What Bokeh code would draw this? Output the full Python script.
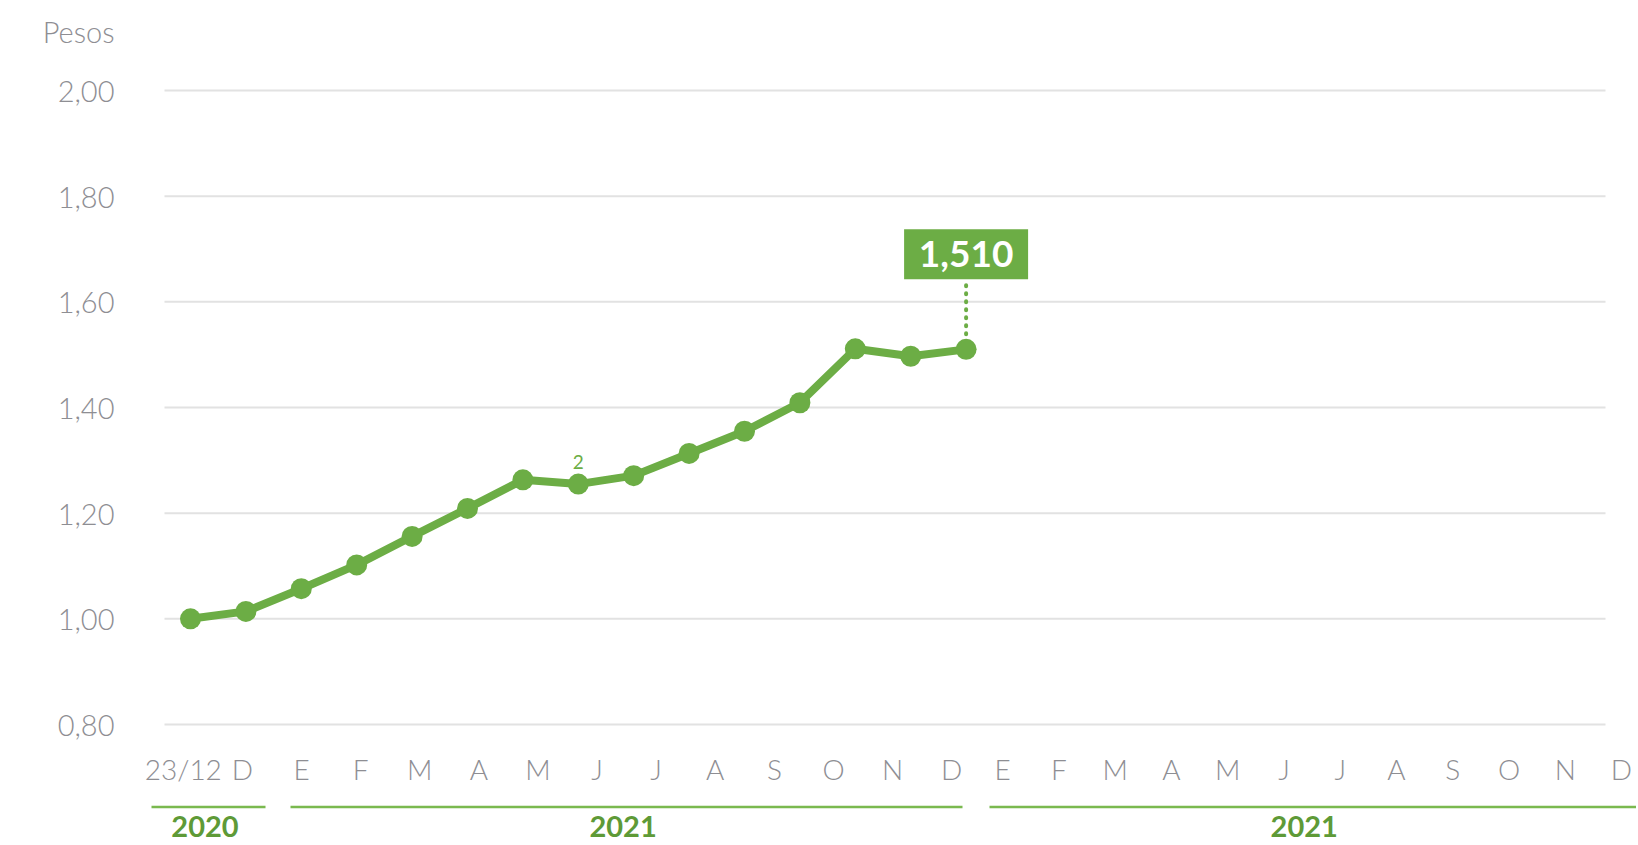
import numpy as np
from bokeh.plotting import figure
from bokeh.models import FixedTicker, CustomJSTickFormatter
from bokeh.core.properties import value
from bokeh.embed import file_html
from bokeh.resources import INLINE

# ---------------- data ----------------
values = [1.000, 1.014, 1.057, 1.102, 1.156, 1.209, 1.263, 1.255, 1.271,
          1.313, 1.355, 1.409, 1.511, 1.497, 1.510]
months_2020 = ["23/12", "D"]
months_2021a = ["E", "F", "M", "A", "M", "J", "J", "A", "S", "O", "N", "D"]
months_2021b = ["E", "F", "M", "A", "M", "J", "J", "A", "S", "O", "N", "D"]
year_labels = ["2020", "2021", "2021"]
y_ticks = [0.8, 1.0, 1.2, 1.4, 1.6, 1.8, 2.0]
last_value_label = "1,510"
note_label = "2"
note_index = 7
unit_label = "Pesos"

# ---------------- layout helpers (page pixels) ----------------
OFF = 0
W, H = 1636, 845
X0, DX = 190.0, 55.4          # page px of first point, px per step
Y_REF, Y_REF_PX, PPU = 2.0, 90.0, 528.3


def px2x(px):
    return (px - X0) / DX


def py2y(py):
    return Y_REF - (py - Y_REF_PX) / PPU


FRAME_LEFT = 140
GREEN = "#6cad45"
GREEN_DARK = "#5e9a37"
GREEN_LINE = "#7ab94f"
GRAY = "#8e8e93"
GRID = "#e2e2e2"
FONT = "Lato Light, Lato"
FONT_B = "Lato"

p = figure(width=W, height=H,
           x_range=(px2x(FRAME_LEFT), px2x(OFF + W)),
           y_range=(py2y(OFF + H), py2y(OFF)),
           output_backend="svg", toolbar_location=None, x_axis_type=None,
           min_border_left=FRAME_LEFT - OFF, min_border_right=0,
           min_border_top=0, min_border_bottom=0)
p.outline_line_color = None
p.grid.visible = False

# y axis (the unit name sits as an extra label above the top tick)
unit_y = py2y(31)
ax = p.yaxis[0]
ax.ticker = FixedTicker(ticks=y_ticks + [unit_y])
ax.formatter = CustomJSTickFormatter(
    args=dict(unit_tick=unit_y, unit=unit_label),
    code="if (Math.abs(tick - unit_tick) < 1e-6) { return unit; }"
         " return tick.toFixed(2).replace('.', ',');")
ax.axis_line_color = None
ax.major_tick_line_color = None
ax.minor_tick_line_color = None
ax.major_tick_out = 0
ax.major_tick_in = 0
ax.major_label_standoff = 26
ax.major_label_text_font = FONT
ax.major_label_text_font_size = "29px"
ax.major_label_text_color = GRAY

# gridlines
n = len(y_ticks)
p.segment(x0=[px2x(164)] * n, x1=[px2x(1605)] * n, y0=y_ticks, y1=y_ticks,
          line_color=GRID, line_width=2)

# month labels
month_labels = months_2020 + months_2021a + months_2021b
tick_pos = np.r_[np.linspace(-0.13, 13.74, len(months_2020) + len(months_2021a)),
                 np.linspace(14.66, 25.83, len(months_2021b))]
p.text(x=list(tick_pos), y=[py2y(768)] * len(month_labels), text=month_labels,
       text_font=value(FONT), text_font_size="28px", text_color=GRAY,
       text_align="center", text_baseline="middle")

# year group lines and labels
spans_px = [(151, 265), (290, 962), (989, OFF + W)]
p.segment(x0=[px2x(a) for a, b in spans_px], x1=[px2x(b) for a, b in spans_px],
          y0=[py2y(806.5)] * 3, y1=[py2y(806.5)] * 3,
          line_color=GREEN_LINE, line_width=2.5)
year_x = [px2x(204.5), px2x(622.6), px2x(1303.7)]
p.text(x=year_x, y=[py2y(826)] * 3, text=year_labels,
       text_font=value(FONT_B), text_font_size="29px", text_font_style="bold",
       text_color=GREEN_DARK, text_align="center", text_baseline="middle")

# data
xs = list(range(len(values)))
p.line(xs, values, line_color=GREEN, line_width=8, line_join="round")
p.scatter(xs, values, size=21, fill_color=GREEN, line_color=None)

# footnote marker
p.text(x=[xs[note_index]], y=[values[note_index]], text=[note_label], y_offset=-22,
       text_font=value(FONT_B), text_font_size="19px", text_color=GREEN,
       text_align="center", text_baseline="middle")

# last value callout
xl, vl = xs[-1], values[-1]
ann_y = vl + 95 / PPU
p.segment(x0=[xl], x1=[xl], y0=[vl + 15 / PPU], y1=[ann_y - 28 / PPU],
          line_color=GREEN, line_width=4, line_dash="1 7", line_cap="round")
p.rect(x=[xl], y=[ann_y], width=124, height=50, width_units="screen",
       height_units="screen", fill_color=GREEN, line_color=None)
p.text(x=[xl], y=[ann_y], text=[last_value_label], text_font=value(FONT_B),
       text_font_size="37px", text_font_style="bold", text_color="white",
       text_align="center", text_baseline="middle")

open("out.html", "w").write(file_html(p, INLINE))
